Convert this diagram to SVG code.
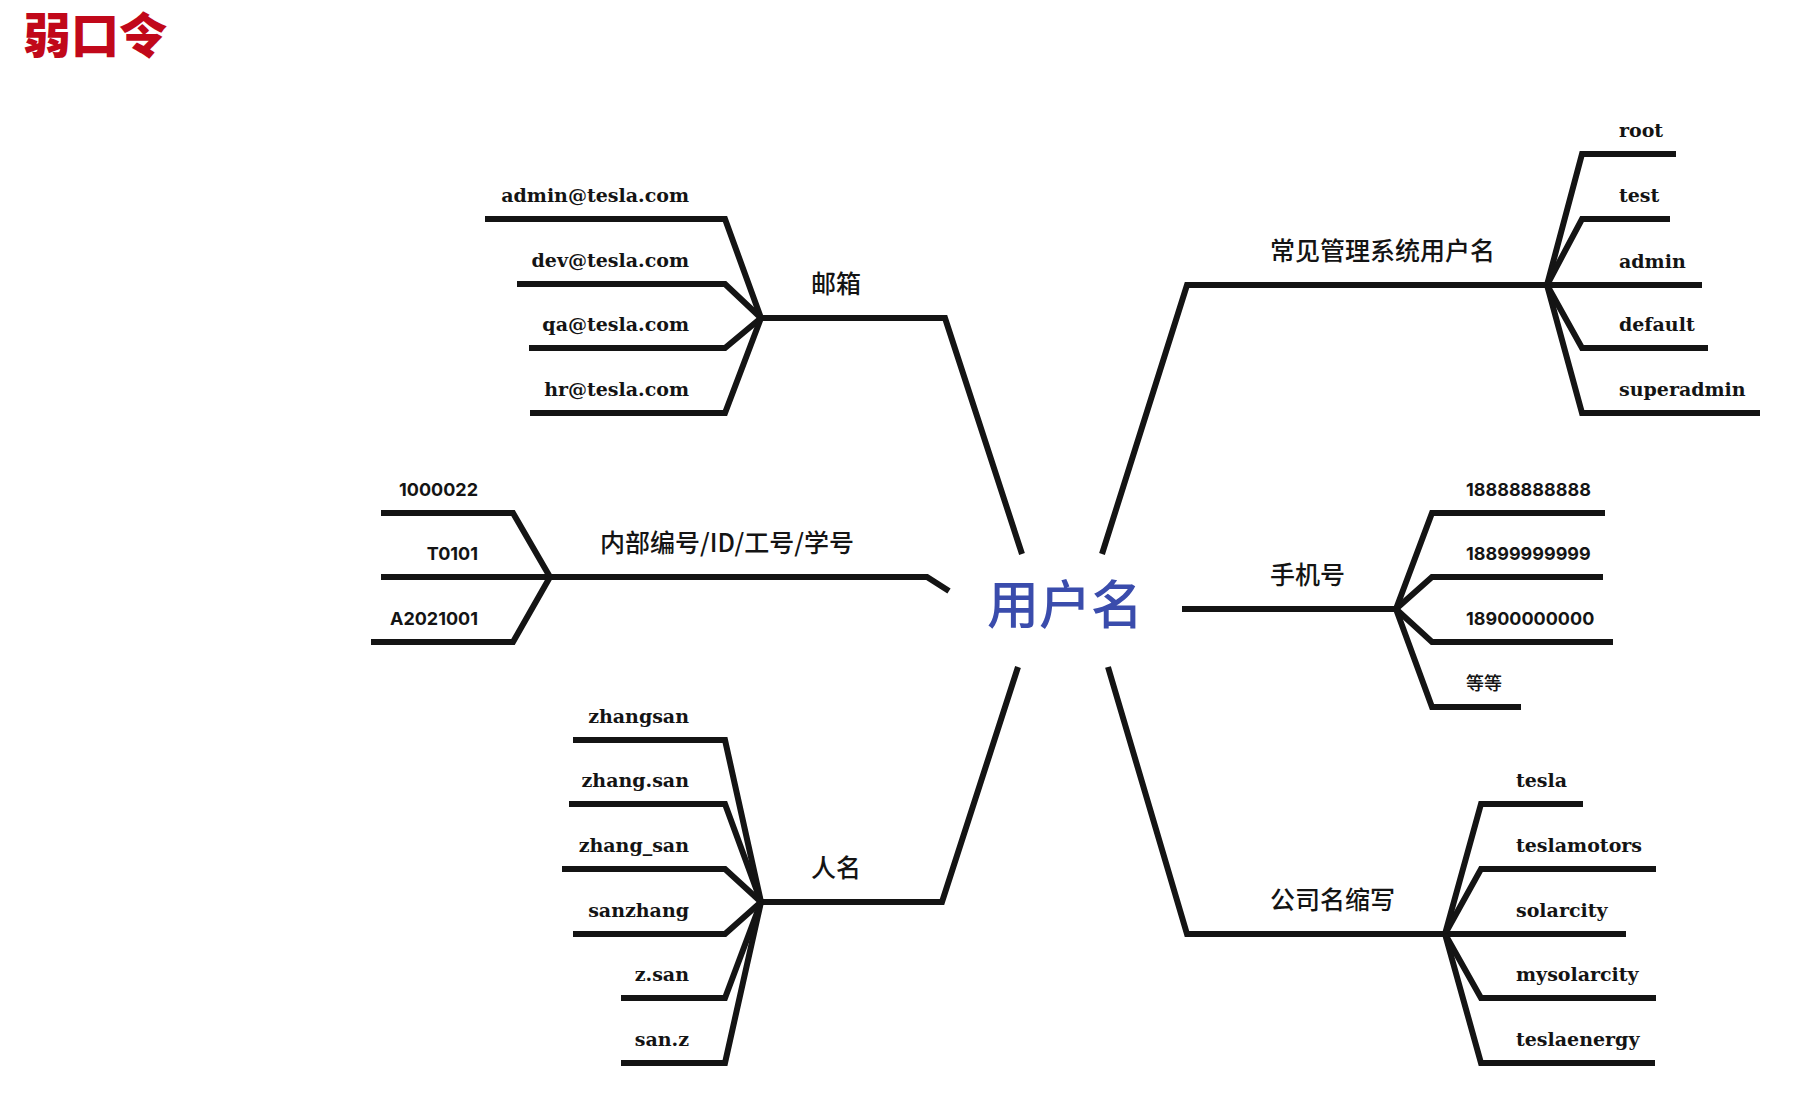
<svg xmlns="http://www.w3.org/2000/svg" width="1809" height="1095" viewBox="0 0 1809 1095">
<style>
.ln{fill:none;stroke:#141414;stroke-width:6;stroke-linejoin:miter;stroke-linecap:butt}
.lf{font-family:"DejaVu Serif","Liberation Serif",serif;font-weight:bold;font-size:19px;fill:#141414}
.num{font-family:Inter,"Liberation Sans",sans-serif;font-weight:bold;font-size:18px;fill:#141414}
.cn{font-family:"Noto Sans CJK SC",sans-serif;font-weight:500;font-size:25px;fill:#141414}
.cnl{font-family:"Noto Sans CJK SC",sans-serif;font-weight:500;font-size:18px;fill:#141414}
.e{text-anchor:end}
</style>
<rect width="1809" height="1095" fill="#ffffff"/>
<text x="23" y="53" style="font-family:'Noto Sans CJK SC',sans-serif;font-weight:900;font-size:48px;fill:#c1081a">弱口令</text>
<g id="connectors">
<path class="ln" d="M761,318 H945 L1022,554"/>
<path class="ln" d="M550,577 H927 L949,591"/>
<path class="ln" d="M761,902 H942 L1018,667"/>
<path class="ln" d="M1102,554 L1187,285 H1547"/>
<path class="ln" d="M1182,609 H1396"/>
<path class="ln" d="M1108,667 L1187,934 H1445"/>
<path class="ln" d="M485,219 H725 L761,318"/>
<path class="ln" d="M517,284 H725 L761,318"/>
<path class="ln" d="M529,348 H725 L761,318"/>
<path class="ln" d="M530,413 H725 L761,318"/>
<path class="ln" d="M381,513 H513 L550,577"/>
<path class="ln" d="M381,577 H550"/>
<path class="ln" d="M371,642 H513 L550,577"/>
<path class="ln" d="M573,740 H725 L761,902"/>
<path class="ln" d="M569,804 H725 L761,902"/>
<path class="ln" d="M562,869 H725 L761,902"/>
<path class="ln" d="M573,934 H725 L761,902"/>
<path class="ln" d="M621,998 H725 L761,902"/>
<path class="ln" d="M621,1063 H725 L761,902"/>
<path class="ln" d="M1547,285 L1582,154 H1676"/>
<path class="ln" d="M1547,285 L1582,219 H1670"/>
<path class="ln" d="M1547,285 H1702"/>
<path class="ln" d="M1547,285 L1582,348 H1708"/>
<path class="ln" d="M1547,285 L1582,413 H1760"/>
<path class="ln" d="M1396,609 L1432,513 H1605"/>
<path class="ln" d="M1396,609 L1432,577 H1603"/>
<path class="ln" d="M1396,609 L1432,642 H1613"/>
<path class="ln" d="M1396,609 L1432,707 H1521"/>
<path class="ln" d="M1445,934 L1481,804 H1583"/>
<path class="ln" d="M1445,934 L1481,869 H1656"/>
<path class="ln" d="M1445,934 H1626"/>
<path class="ln" d="M1445,934 L1481,998 H1656"/>
<path class="ln" d="M1445,934 L1481,1063 H1655"/>
</g>
<g id="root"><text x="1065" y="624" text-anchor="middle" style="font-family:'Noto Sans CJK SC',sans-serif;font-weight:500;font-size:52px;fill:#3a4cac">用户名</text></g>
<g id="email"><text class="cn" x="811" y="293">邮箱</text></g>
<g id="email-1"><text class="lf e" x="689" y="202">admin@tesla.com</text></g>
<g id="email-2"><text class="lf e" x="689" y="267">dev@tesla.com</text></g>
<g id="email-3"><text class="lf e" x="689" y="331">qa@tesla.com</text></g>
<g id="email-4"><text class="lf e" x="689" y="396">hr@tesla.com</text></g>
<g id="id"><text class="cn" x="600" y="552">内部编号/ID/工号/学号</text></g>
<g id="id-1"><text class="num e" x="478" y="496">1000022</text></g>
<g id="id-2"><text class="num e" x="478" y="560">T0101</text></g>
<g id="id-3"><text class="num e" x="478" y="625">A2021001</text></g>
<g id="name"><text class="cn" x="811" y="877">人名</text></g>
<g id="name-1"><text class="lf e" x="689" y="723">zhangsan</text></g>
<g id="name-2"><text class="lf e" x="689" y="787">zhang.san</text></g>
<g id="name-3"><text class="lf e" x="689" y="852">zhang_san</text></g>
<g id="name-4"><text class="lf e" x="689" y="917">sanzhang</text></g>
<g id="name-5"><text class="lf e" x="689" y="981">z.san</text></g>
<g id="name-6"><text class="lf e" x="689" y="1046">san.z</text></g>
<g id="sys"><text class="cn" x="1270" y="260">常见管理系统用户名</text></g>
<g id="sys-1"><text class="lf" x="1619" y="137">root</text></g>
<g id="sys-2"><text class="lf" x="1619" y="202">test</text></g>
<g id="sys-3"><text class="lf" x="1619" y="268">admin</text></g>
<g id="sys-4"><text class="lf" x="1619" y="331">default</text></g>
<g id="sys-5"><text class="lf" x="1619" y="396">superadmin</text></g>
<g id="phone"><text class="cn" x="1270" y="584">手机号</text></g>
<g id="phone-1"><text class="num" x="1466" y="496">18888888888</text></g>
<g id="phone-2"><text class="num" x="1466" y="560">18899999999</text></g>
<g id="phone-3"><text class="num" x="1466" y="625">18900000000</text></g>
<g id="phone-4"><text class="cnl" x="1466" y="690">等等</text></g>
<g id="company"><text class="cn" x="1270" y="909">公司名缩写</text></g>
<g id="company-1"><text class="lf" x="1516" y="787">tesla</text></g>
<g id="company-2"><text class="lf" x="1516" y="852">teslamotors</text></g>
<g id="company-3"><text class="lf" x="1516" y="917">solarcity</text></g>
<g id="company-4"><text class="lf" x="1516" y="981">mysolarcity</text></g>
<g id="company-5"><text class="lf" x="1516" y="1046">teslaenergy</text></g>
</svg>
